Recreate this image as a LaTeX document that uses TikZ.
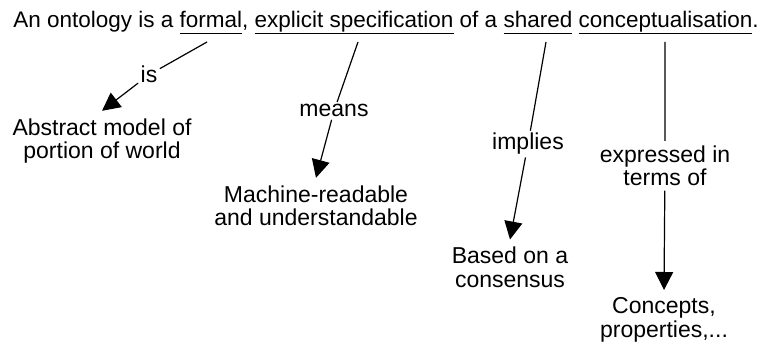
\documentclass[tikz,border=0pt]{standalone}
\usepackage{fontspec}
\setmainfont{Liberation Sans}
\usetikzlibrary{arrows.meta}
\newcommand{\uword}[1]{\setbox0\hbox{#1}\rlap{\rule[-5.5pt]{\wd0}{0.9pt}}\box0\relax}
\tikzset{
    lbl/.style={inner sep=2pt, anchor=base, font=\fontsize{23}{23.5}\selectfont},
    box/.style={align=center, inner sep=7pt, anchor=north, font=\fontsize{23}{23.5}\selectfont},
    tip/.style={-{Triangle[length=18pt,width=18pt]}},
  }

\begin{document}
\begin{tikzpicture}[x=1pt,y=-1pt,line width=1.2pt]
				  %frame of the picture in pixels
				  \useasboundingbox (0,0) rectangle (768,347);
				  \node[inner sep=0pt,anchor=base,font=\fontsize{22.5}{24}\selectfont] (def) at (386,28)
				    {An ontology is a \uword{formal}, \uword{explicit specification} of a \uword{shared} \uword{conceptualisation}.};
				  \coordinate(fo) at (207,42);
				  \coordinate(ex) at (358,42);
				  \coordinate(sh) at (546,42);
				  \coordinate(co) at (665,42);
				  
				  %labels on the links (base line given)
				  \node[lbl] (is) at (149,83) {is};
				  \node[lbl] (means) at (334,117) {means};
				  \node[lbl] (implies) at (528,150) {implies};
				  \node[box,inner sep=4pt] (expr) at (665,141) {expressed in\\terms of};
				  
				  %targets (first base line minus 23.7)
				  \node[box] (abs) at (102,110.8) {Abstract model of\\portion of world};
				  \node[box] (mr) at (316,177.8) {Machine-readable\\and understandable};
				  \node[box] (bc) at (510,239.5) {Based on a\\consensus};
				  \node[box] (cp) at (664,290) {Concepts,\\properties,...};
				  
				  \draw(fo) -- (is) (ex) -- (means) (sh) -- (implies) (co) -- (expr);
				  \draw[tip] (is) -- (abs.north);
				  \draw[tip] (means) -- (mr.north);
				  \draw[tip] (implies) -- (bc.north);
				  \draw[tip] (expr) -- (cp.north);
				  \end{tikzpicture}
\end{document}
